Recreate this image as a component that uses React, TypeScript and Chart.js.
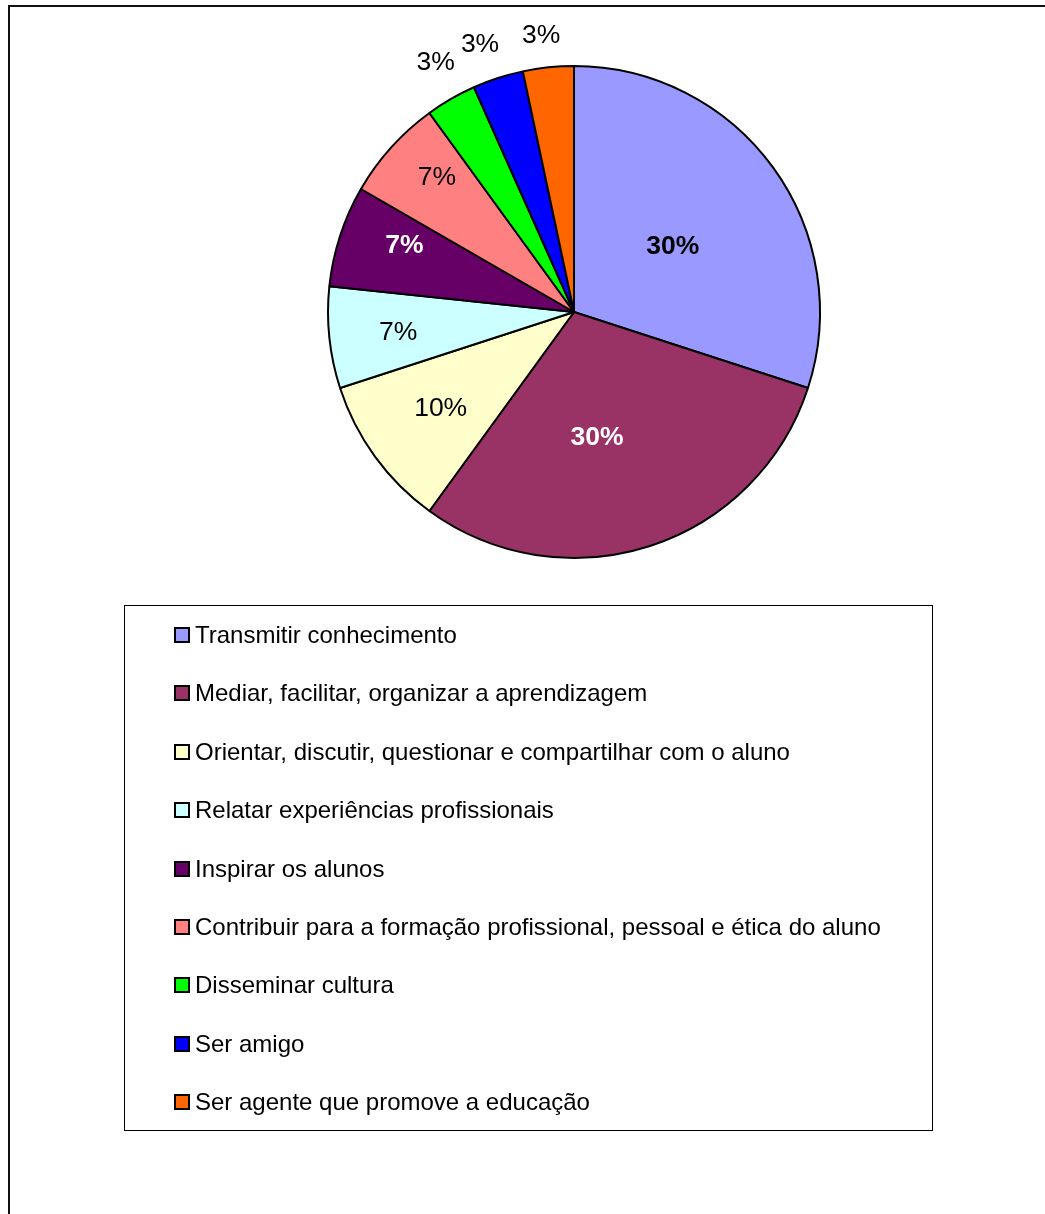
import React, { useEffect, useRef } from "react";
import { Chart, registerables } from "chart.js";

Chart.register(...registerables);

const categories = [
  "Transmitir conhecimento",
  "Mediar, facilitar, organizar a aprendizagem",
  "Orientar, discutir, questionar e compartilhar com o aluno",
  "Relatar experiências profissionais",
  "Inspirar os alunos",
  "Contribuir para a formação profissional, pessoal e ética do aluno",
  "Disseminar cultura",
  "Ser amigo",
  "Ser agente que promove a educação",
];
const counts = [9, 9, 3, 2, 2, 2, 1, 1, 1];
const percentLabels = ["30%", "30%", "10%", "7%", "7%", "7%", "3%", "3%", "3%"];
const colors = ["#9999FF", "#993366", "#FFFFCC", "#CCFFFF", "#660066", "#FF8080", "#00FF00", "#0000FF", "#FF6600"];
const labelRadiusFrac = [0.48, 0.52, 0.67, 0.72, 0.74, 0.78, 1.16, 1.15, 1.13];
const labelAngleShiftDeg = [2.7, 7.6, 0, -0.8, 3.3, 2.4, 1, -1.4, -0.8];
const labelBold = [true, true, false, false, true, false, false, false, false];
const labelColor = ["#000", "#fff", "#000", "#000", "#fff", "#000", "#000", "#000", "#000"];

const W = 1045;
const H = 1214;
const FONT = "'Liberation Sans', Arial, sans-serif";

const overlayPlugin = {
  id: "overlay",
  beforeDraw(chart: any) {
    const ctx = chart.ctx;
    ctx.save();
    ctx.fillStyle = "#fff";
    ctx.fillRect(0, 0, W, H);
    ctx.strokeStyle = "#111";
    ctx.lineWidth = 2;
    ctx.strokeRect(9, 6, 1200, 1400);
    ctx.restore();
  },
  afterDraw(chart: any) {
    const ctx = chart.ctx;
    const meta = chart.getDatasetMeta(0);
    ctx.save();
    ctx.textAlign = "center";
    ctx.textBaseline = "middle";
    meta.data.forEach((arc: any, i: number) => {
      const p = arc.getProps(["x", "y", "startAngle", "endAngle", "outerRadius"], true);
      const mid = (p.startAngle + p.endAngle) / 2 + (labelAngleShiftDeg[i] * Math.PI) / 180;
      const r = p.outerRadius * labelRadiusFrac[i];
      const x = p.x + Math.cos(mid) * r;
      const y = p.y + Math.sin(mid) * r;
      ctx.font = (labelBold[i] ? "bold " : "") + "26.5px " + FONT;
      ctx.fillStyle = labelColor[i];
      ctx.fillText(percentLabels[i], x, y);
    });
    const bx = 124, by = 605, bw = 808, bh = 525;
    ctx.strokeStyle = "#000";
    ctx.lineWidth = 1;
    ctx.strokeRect(bx + 0.5, by + 0.5, bw, bh);
    const rowStart = 635;
    const rowStep = 58.4;
    ctx.textAlign = "left";
    ctx.font = "24px " + FONT;
    categories.forEach((c, i) => {
      const cy = Math.round(rowStart + i * rowStep);
      ctx.fillStyle = colors[i];
      ctx.fillRect(175, cy - 7, 14, 14);
      ctx.lineWidth = 2;
      ctx.strokeStyle = "#000";
      ctx.strokeRect(175, cy - 7, 14, 14);
      ctx.fillStyle = "#000";
      ctx.fillText(c, 195, cy + 1);
    });
    ctx.restore();
  },
};

export default function App() {
  const ref = useRef<HTMLCanvasElement>(null);
  useEffect(() => {
    if (!ref.current) return;
    const chart = new Chart(ref.current, {
      type: "pie",
      data: {
        labels: categories,
        datasets: [
          {
            data: counts,
            backgroundColor: colors,
            borderColor: "#000",
            borderWidth: 2,
            borderAlign: "center",
          } as any,
        ],
      },
      options: {
        animation: false,
        responsive: false,
        radius: 246,
        layout: { padding: { left: 200, right: 97, top: 20, bottom: 610 } },
        plugins: { legend: { display: false }, tooltip: { enabled: false } },
      } as any,
      plugins: [overlayPlugin],
    });
    return () => chart.destroy();
  }, []);
  return (
    <div style={{ position: "absolute", left: 0, top: 0, width: W, height: H }}>
      <canvas ref={ref} width={W} height={H} style={{ display: "block", width: W, height: H }} />
    </div>
  );
}
